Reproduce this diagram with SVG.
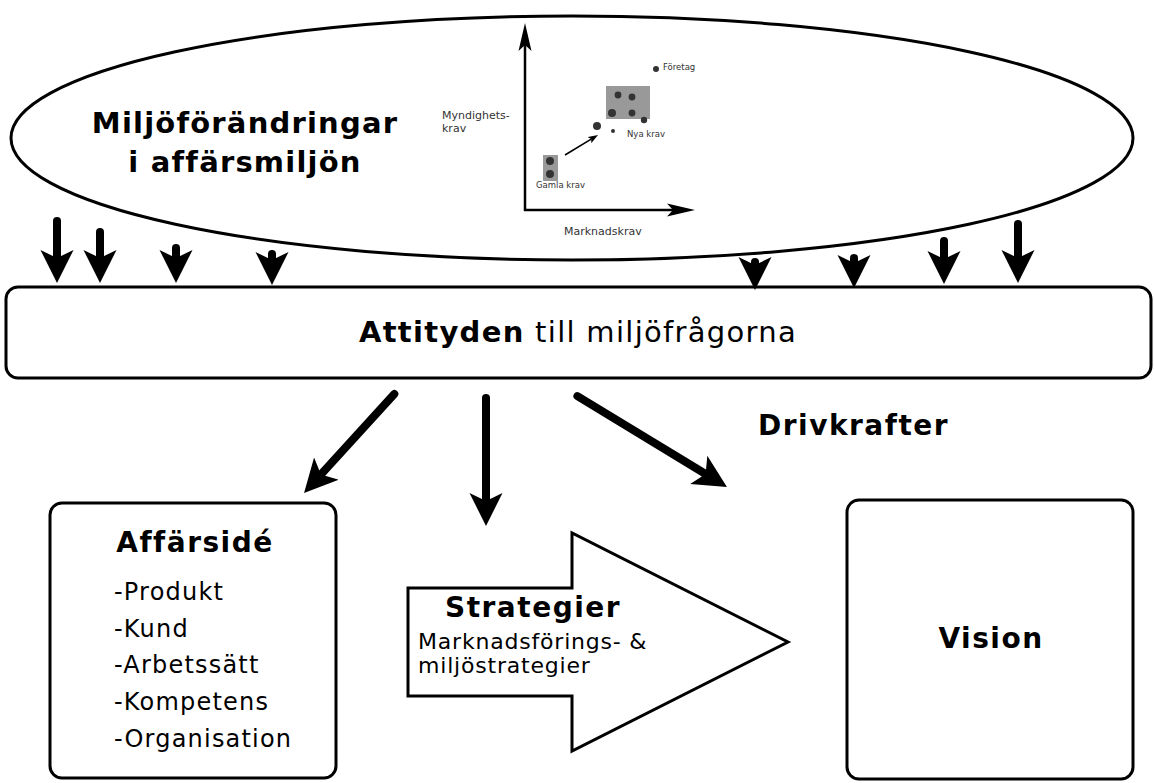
<svg xmlns="http://www.w3.org/2000/svg" width="1154" height="783" viewBox="0 0 1154 783">
<style>
text{font-family:"DejaVu Sans","Liberation Sans",sans-serif;fill:#000}
.b{font-weight:bold}
.h{font-weight:bold;font-size:28px;letter-spacing:1.5px}
.item{font-size:24px;letter-spacing:1.2px}
.sub{font-size:22px;letter-spacing:0.8px}
.shape{fill:#fff;stroke:#000;stroke-width:3}
.big{stroke:#000;stroke-width:8;stroke-linecap:round;fill:none;marker-end:url(#ah)}
.axis{stroke:#000;stroke-width:2.5;fill:none;marker-end:url(#ax)}
.ct{fill:#333;font-size:8.5px}
.cl{fill:#333;font-size:11px}
.dot{fill:#333}
.grey{fill:#999}
</style>
<defs>
<marker id="ah" markerUnits="userSpaceOnUse" viewBox="0 -17 34 34" markerWidth="34" markerHeight="34" refX="8" refY="0" orient="auto">
<path d="M0,-16.5 L33,0 L0,16.5 L8,0 z" fill="#000"/>
</marker>
<marker id="ax" markerUnits="userSpaceOnUse" viewBox="0 -7 29 14" markerWidth="29" markerHeight="14" refX="6" refY="0" orient="auto">
<path d="M0,-6.5 L28,0 L0,6.5 L6,0 z" fill="#000"/>
</marker>
<marker id="sm" markerUnits="userSpaceOnUse" viewBox="0 -4 11 8" markerWidth="11" markerHeight="8" refX="2" refY="0" orient="auto">
<path d="M0,-3.5 L10,0 L0,3.5 L2,0 z" fill="#000"/>
</marker>
</defs>

<g id="miljo">
<ellipse class="shape" cx="572" cy="138" rx="561" ry="122"/>
<text class="b" x="245" y="133" font-size="29" letter-spacing="1.2" text-anchor="middle">Miljöförändringar</text>
<text class="b" x="245" y="172" font-size="29" letter-spacing="1.2" text-anchor="middle">i affärsmiljön</text>
</g>

<g id="chart">
<line class="axis" x1="525" y1="211" x2="525" y2="45"/>
<line class="axis" x1="524" y1="210" x2="673" y2="210"/>
<rect class="grey" x="606" y="86" width="44" height="33"/>
<rect class="grey" x="543" y="155" width="15" height="26"/>
<circle class="dot" cx="618" cy="95" r="3.4"/>
<circle class="dot" cx="632" cy="97" r="3.4"/>
<circle class="dot" cx="612" cy="113" r="4"/>
<circle class="dot" cx="632" cy="113" r="3.4"/>
<circle class="dot" cx="644" cy="120" r="3.2"/>
<circle class="dot" cx="597" cy="126" r="4"/>
<circle class="dot" cx="613" cy="131" r="2"/>
<circle class="dot" cx="656" cy="69" r="3"/>
<circle class="dot" cx="550" cy="161" r="4"/>
<circle class="dot" cx="550" cy="174" r="4"/>
<line x1="565" y1="155" x2="591.2" y2="139.1" stroke="#000" stroke-width="1.6" marker-end="url(#sm)"/>
<text class="ct" x="663" y="70">Företag</text>
<text class="ct" x="627" y="137">Nya krav</text>
<text class="ct" x="536" y="188">Gamla krav</text>
<text class="cl" x="442" y="119">Myndighets-</text>
<text class="cl" x="442" y="132">krav</text>
<text class="cl" x="564" y="235">Marknadskrav</text>
</g>

<g id="attityden">
<rect class="shape" x="6" y="287" width="1145" height="91" rx="12"/>
<text x="578" y="342" font-size="29" letter-spacing="1.3" text-anchor="middle"><tspan class="b">Attityden</tspan> till miljöfrågorna</text>
</g>

<g id="drivkrafter">
<text class="h" x="758" y="435">Drivkrafter</text>
</g>

<g id="affarside">
<rect class="shape" x="50" y="503" width="286" height="275" rx="12"/>
<text class="h" x="195" y="552" text-anchor="middle">Affärsidé</text>
<text class="item" x="114" y="600">-Produkt</text>
<text class="item" x="114" y="637">-Kund</text>
<text class="item" x="114" y="673">-Arbetssätt</text>
<text class="item" x="114" y="710">-Kompetens</text>
<text class="item" x="114" y="747">-Organisation</text>
</g>

<g id="strategier">
<polygon class="shape" points="408,588 572,588 572,533 788,642 572,751 572,696 408,696"/>
<text class="h" x="445" y="617">Strategier</text>
<text class="sub" x="418" y="649">Marknadsförings- &amp;</text>
<text class="sub" x="418" y="673">miljöstrategier</text>
</g>

<g id="vision">
<rect class="shape" x="847" y="500" width="286" height="279" rx="12"/>
<text class="h" x="991" y="648" text-anchor="middle">Vision</text>
</g>

<g id="connectors">
<line class="big" x1="57" y1="221" x2="57" y2="258"/>
<line class="big" x1="100" y1="232" x2="100" y2="258"/>
<line class="big" x1="176" y1="248" x2="176" y2="258"/>
<line class="big" x1="272" y1="254" x2="272" y2="260"/>
<line class="big" x1="755" y1="262" x2="755" y2="265"/>
<line class="big" x1="854" y1="258" x2="854" y2="263"/>
<line class="big" x1="944" y1="241" x2="944" y2="259"/>
<line class="big" x1="1018" y1="224" x2="1018" y2="258"/>
<line class="big" x1="394.3" y1="394" x2="320.9" y2="474.5"/>
<line class="big" x1="486" y1="398" x2="486" y2="501"/>
<line class="big" x1="577.4" y1="396.1" x2="705.6" y2="474"/>
</g>
</svg>
